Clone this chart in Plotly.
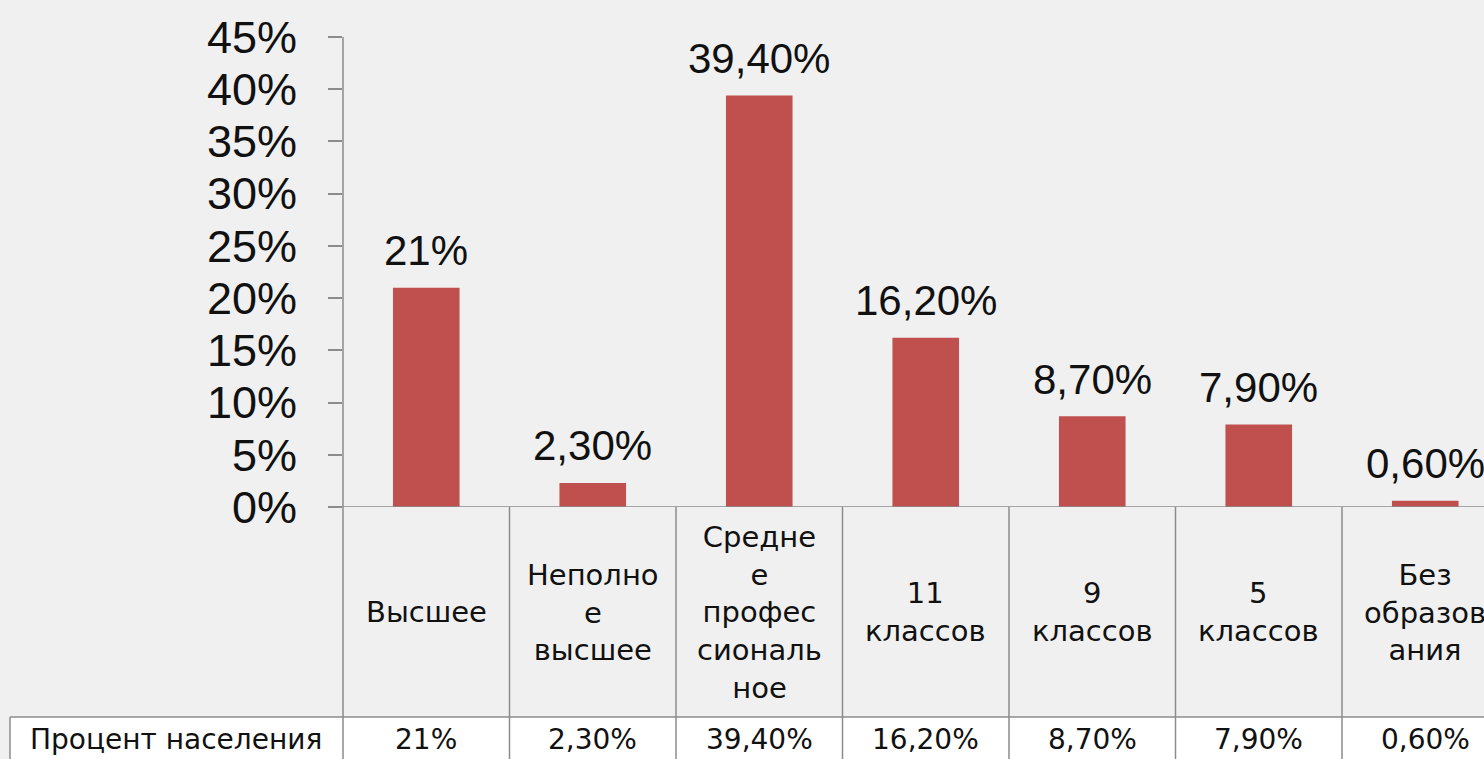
import plotly.graph_objects as go

# ---- data ----
categories = ["Высшее", "Неполное высшее", "Среднее профессиональное",
              "11 классов", "9 классов", "5 классов", "Без образования"]
category_wrapped = ["Высшее", "Неполно<br>е<br>высшее", "Средне<br>е<br>профес<br>сиональ<br>ное",
                    "11<br>классов", "9<br>классов", "5<br>классов", "Без<br>образов<br>ания"]
values = [21, 2.3, 39.4, 16.2, 8.7, 7.9, 0.6]
value_labels = ["21%", "2,30%", "39,40%", "16,20%", "8,70%", "7,90%", "0,60%"]
series_name = "Процент населения"
y_ticks = [0, 5, 10, 15, 20, 25, 30, 35, 40, 45]
y_tick_labels = [f"{t}%" for t in y_ticks]

# ---- layout helpers ----
W, H = 1484, 759
def py(px):
    return 1 - px / H
def pxx(px):
    return px / W

NUM_FONT = "Liberation Sans"
TAB_FONT = "DejaVu Sans"
LINE = "#8c8c8c"
BAR = "#C0504D"
TXT = "#111111"

axis_bottom_px, axis_top_px = 507, 37
table_split_px = 717
plot_left_px = 343

fig = go.Figure()
fig.add_trace(go.Bar(
    x=list(range(len(categories))), y=values, name=series_name,
    marker=dict(color=BAR, line=dict(width=0)), width=0.4,
    hovertext=categories, showlegend=False,
))

shapes = []
# white background of value row
shapes.append(dict(type="rect", xref="paper", yref="paper",
                   x0=pxx(10), x1=1, y0=0, y1=py(table_split_px),
                   fillcolor="white", line=dict(width=0), layer="below"))
# y axis line extended through table
shapes.append(dict(type="line", xref="paper", yref="paper",
                   x0=pxx(plot_left_px), x1=pxx(plot_left_px), y0=0, y1=py(axis_top_px),
                   line=dict(color=LINE, width=1.5)))
# x axis line / table top border
shapes.append(dict(type="line", xref="paper", yref="y",
                   x0=pxx(328), x1=1, y0=0, y1=0,
                   line=dict(color=LINE, width=1.5)))
# category separators in table
for k in range(len(categories)):
    shapes.append(dict(type="line", xref="x", yref="paper",
                       x0=k + 0.5, x1=k + 0.5, y0=0, y1=py(axis_bottom_px),
                       line=dict(color=LINE, width=1.5)))
# value row top border
shapes.append(dict(type="line", xref="paper", yref="paper",
                   x0=pxx(10), x1=1, y0=py(table_split_px), y1=py(table_split_px),
                   line=dict(color=LINE, width=1.5)))
# row label left border
shapes.append(dict(type="line", xref="paper", yref="paper",
                   x0=pxx(10), x1=pxx(10), y0=0, y1=py(table_split_px),
                   line=dict(color=LINE, width=1.5)))

annotations = []
# data labels above bars
for i, (v, lab) in enumerate(zip(values, value_labels)):
    annotations.append(dict(x=i, y=v, xref="x", yref="y", text=lab, showarrow=False,
                            xanchor="center", yanchor="middle", yshift=37,
                            font=dict(family=NUM_FONT, size=42, color=TXT)))
# category header cells
for i, lab in enumerate(category_wrapped):
    annotations.append(dict(x=i, y=py(612), xref="x", yref="paper", text=lab,
                            showarrow=False, xanchor="center", yanchor="middle", align="center",
                            font=dict(family=TAB_FONT, size=29, color=TXT)))
# value cells
for i, lab in enumerate(value_labels):
    annotations.append(dict(x=i, y=py(739), xref="x", yref="paper", text=lab,
                            showarrow=False, xanchor="center", yanchor="middle",
                            font=dict(family=TAB_FONT, size=28, color=TXT)))
# row label
annotations.append(dict(x=pxx(176), y=py(739), xref="paper", yref="paper",
                        text=series_name, showarrow=False, xanchor="center", yanchor="middle",
                        font=dict(family=TAB_FONT, size=28, color=TXT)))

cat_px = 166.5
span = (W - plot_left_px) / cat_px

fig.update_layout(
    width=W, height=H, autosize=False,
    margin=dict(l=0, r=0, t=0, b=0, pad=0, autoexpand=False),
    paper_bgcolor="#F0F0F0", plot_bgcolor="rgba(0,0,0,0)",
    font=dict(family=NUM_FONT, color=TXT),
    shapes=shapes, annotations=annotations,
    xaxis=dict(domain=[pxx(plot_left_px), 1], range=[-0.5, -0.5 + span],
               showticklabels=False, showgrid=False, zeroline=False, automargin=False,
               showline=False, ticks="", fixedrange=True),
    yaxis=dict(domain=[py(axis_bottom_px), py(axis_top_px)], range=[0, 45],
               tickvals=y_ticks, ticktext=y_tick_labels, automargin=False,
               ticks="outside", ticklen=14, tickwidth=1.5, tickcolor=LINE,
               ticklabelstandoff=22,
               tickfont=dict(family=NUM_FONT, size=45, color=TXT),
               showgrid=False, zeroline=False, showline=False, fixedrange=True),
)

fig.write_html("out.html")
